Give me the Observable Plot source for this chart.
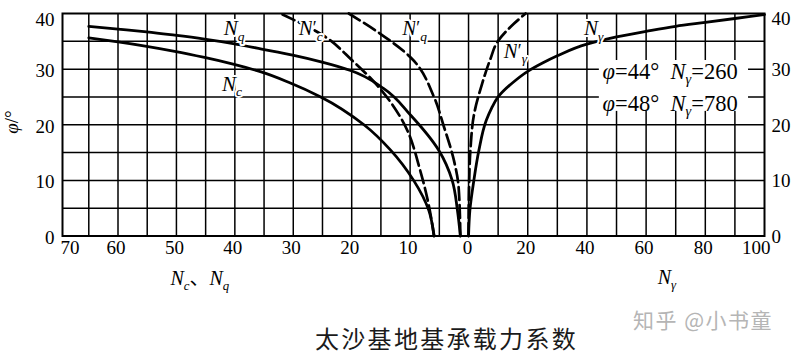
<!DOCTYPE html>
<html>
<head>
<meta charset="utf-8">
<script src="https://cdn.jsdelivr.net/npm/d3@7"></script>
<script src="https://cdn.jsdelivr.net/npm/@observablehq/plot@0.6"></script>
<style>
  html, body { margin: 0; padding: 0; background: #fff; }
  #wrap { position: relative; width: 804px; height: 355px; overflow: hidden; background: #fff; }
  #title { position: absolute; left: 315px; top: 326px; font-family: "Noto Sans CJK SC", sans-serif; font-size: 24px; line-height: 24px; letter-spacing: 2.3px; color: #1a1a1a; white-space: nowrap; }
  #mark { position: absolute; left: 633px; top: 309px; font-family: "Noto Sans CJK SC", sans-serif; font-size: 21px; line-height: 21px; letter-spacing: 1.5px; color: #b5b5b5; white-space: nowrap; }
</style>
</head>
<body>
<div id="wrap">
  <div id="chart"></div>
  <div id="title">太沙基地基承载力系数</div>
  <div id="mark">知乎 @小书童</div>
</div>
<script>
// ---- tick labels and grid ----
const phiTicks = [0, 10, 20, 30, 40];
const phiGrid = [5, 10, 15, 20, 25, 30, 35];
const ncTickLabels = [60, 50, 40, 30, 20, 10];   // left axis (Nc, Nq), reversed
const ncEndTick = [70];
const zeroTick = [0];
const ngTickLabels = [20, 40, 60, 80];            // right axis (Nγ)
const ngEndTick = [100];
const ncGrid = [5, 10, 15, 20, 25, 30, 35, 40, 45, 50, 55, 60, 65];
const ngGrid = [10, 20, 30, 40, 50, 60, 70, 80, 90];

// ---- curves (φ in degrees, N value) ----
const phiNc = [0, 4.6, 10, 15.4, 20, 25, 27.5, 29.5, 30.9, 32.1, 33.2, 34.1, 34.9, 35.6];
const valNc = [5.9, 6.8, 9.4, 13.3, 17.9, 25.3, 30.5, 35.5, 40.3, 45.2, 50.3, 55.1, 60.0, 65.0];

const phiNq = [0, 4.6, 10, 15.4, 21.7, 26.5, 29.75, 31.2, 32.5, 33.6, 34.6, 35.4, 36.1, 36.7, 37.2, 37.7];
const valNq = [1.4, 1.9, 2.8, 5.1, 9.9, 14.5, 20.2, 24.9, 30.1, 35.4, 40.3, 45.2, 50.3, 55.1, 60.0, 65.0];

const phiNcL = [0, 5.5, 11.5, 20.8, 27.4, 31.55, 36.0, 40];
const valNcL = [5.9, 6.8, 8.2, 11.35, 15.9, 19.9, 24.8, 32.2];

const phiNqL = [0, 8.8, 13.6, 19.6, 24.95, 32.1, 36.35, 40];
const valNqL = [1.4, 1.7, 2.5, 4.2, 5.9, 9.9, 15.1, 20.5];

const phiNgL = [0, 8, 16, 21.7, 27.4, 31.85, 34.85, 38.15, 40];
const valNgL = [0, 0.15, 0.7, 1.8, 4.6, 7.4, 9.7, 15.3, 19.3];

const phiNg = [0, 4.6, 10, 15.4, 20.8, 23, 25, 27.6, 29.6, 31.1, 32.4, 34.5, 35.8, 36.8, 37.7, 38.4, 39.1, 39.8];
const valNg = [0, 0.45, 1.8, 3.5, 6.0, 7.8, 10, 15, 20, 25, 30, 40, 50, 60, 70, 80, 90, 100];

const curves = [
  {name: "Nc",  side: "left",  dashed: false, phi: phiNc,  N: valNc},
  {name: "Nq",  side: "left",  dashed: false, phi: phiNq,  N: valNq},
  {name: "Nc'", side: "left",  dashed: true,  phi: phiNcL, N: valNcL},
  {name: "Nq'", side: "left",  dashed: true,  phi: phiNqL, N: valNqL},
  {name: "Ng'", side: "right", dashed: true,  phi: phiNgL, N: valNgL},
  {name: "Ng",  side: "right", dashed: false, phi: phiNg,  N: valNg}
];
const rows = curves.flatMap(c => c.phi.map((p, i) => ({curve: c.name, side: c.side, dashed: c.dashed, phi: p, N: c.N[i]})));

// The shared x axis: left half reads Nc, Nq (reversed), right half reads Nγ.
// One left unit spans K right units (5 units of Nc per grid cell vs 10 of Nγ).
const K = 1.974;
const leftX = v => -K * v;
const xOf = d => d.side === "left" ? leftX(d.N) : d.N;
const leftEdge = 69.5;   // Nc value at the frame's left edge
const rightEdge = 100;   // Nγ value at the frame's right edge

// ---- curve labels ----
const curveLabels = [
  {t: "[i:N][s:q]",      side: "left",  N: 41.9,  phi: 36.05},
  {t: "[i:N][s:c]",      side: "left",  N: 42.2,  phi: 26.0},
  {t: "[i:N][p:′][s:c]", side: "left",  N: 29.05, phi: 36.05},
  {t: "[i:N][p:′][s:q]", side: "left",  N: 11.35, phi: 36.05},
  {t: "[i:N][p:′][s:γ]", side: "right", N: 11.9,  phi: 32.0},
  {t: "[i:N][s:γ]",      side: "right", N: 39.0,  phi: 36.05}
];

// ---- note: large-φ values of Nγ ----
const notePhi = [44, 48];
const noteNg = [260, 780];
const noteBaselinePhi = [28.26, 22.56];
const noteStartNg = 45.3;
const noteBox = {x1: 44.2, x2: 94.6, y1: 22.4, y2: 31.55};
const notes = notePhi.map((p, i) => ({text: `[i:φ]=${p}°  [i:N][s:γ]=${noteNg[i]}`, phi: noteBaselinePhi[i]}));

const serif = "'Liberation Serif', 'Times New Roman', 'Noto Sans CJK SC', serif";

const chart = Plot.plot({
  width: 804,
  height: 300,
  marginTop: 13,
  marginBottom: 64.5,
  marginLeft: 62,
  marginRight: 40,
  style: {fontFamily: serif, background: "white", color: "black", overflow: "visible"},
  x: {domain: [leftX(leftEdge), rightEdge], axis: null},
  y: {domain: [0, 40], axis: null},
  marks: [
    // grid
    Plot.ruleY(phiGrid, {stroke: "black", strokeWidth: 1.5}),
    Plot.ruleX(ncGrid, {x: leftX, stroke: "black", strokeWidth: 1.5}),
    Plot.ruleX(zeroTick, {stroke: "black", strokeWidth: 1.5}),
    Plot.ruleX(ngGrid, {stroke: "black", strokeWidth: 1.5}),
    Plot.frame({stroke: "black", strokeWidth: 2}),
    // curves
    Plot.line(rows.filter(d => !d.dashed), {x: xOf, y: "phi", z: "curve", curve: "monotone-y", stroke: "black", strokeWidth: 2.8}),
    Plot.line(rows.filter(d => d.dashed), {x: xOf, y: "phi", z: "curve", curve: "monotone-y", stroke: "black", strokeWidth: 2.7, strokeDasharray: "13,5"}),
    // note box
    Plot.rect([noteBox], {x1: "x1", x2: "x2", y1: "y1", y2: "y2", fill: "white"}),
    Plot.text(notes, {x: () => noteStartNg, y: "phi", text: "text", textAnchor: "start", lineAnchor: "bottom", fontSize: 22.5, fill: "black", className: "rich"}),
    // curve labels
    Plot.text(curveLabels, {x: xOf, y: "phi", text: "t", textAnchor: "start", lineAnchor: "bottom", fontSize: 21, fill: "black", stroke: "white", strokeWidth: 4, className: "rich"}),
    // y tick labels
    Plot.text(phiTicks.filter(d => d < 40), {y: d => d, text: d => String(d), frameAnchor: "left", textAnchor: "end", dx: -8, dy: 2, fontSize: 19}),
    Plot.text(phiTicks.filter(d => d === 40), {y: d => d, text: d => String(d), frameAnchor: "left", textAnchor: "end", dx: -8, dy: 6, fontSize: 19}),
    Plot.text(phiTicks.filter(d => d < 40), {y: d => d, text: d => String(d), frameAnchor: "right", textAnchor: "start", dx: 7, dy: 1, fontSize: 19}),
    Plot.text(phiTicks.filter(d => d === 40), {y: d => d, text: d => String(d), frameAnchor: "right", textAnchor: "start", dx: 7, dy: 5, fontSize: 19}),
    // x tick labels
    Plot.text(ncTickLabels, {x: leftX, text: d => String(d), frameAnchor: "bottom", dy: 18, dx: -2, fontSize: 19}),
    Plot.text(ncEndTick, {x: leftX, text: d => String(d), frameAnchor: "bottom", textAnchor: "start", dy: 18, dx: 1, fontSize: 19}),
    Plot.text(zeroTick, {x: d => d, text: d => String(d), frameAnchor: "bottom", dy: 18, dx: -1, fontSize: 19}),
    Plot.text(ngTickLabels, {x: d => d, text: d => String(d), frameAnchor: "bottom", dy: 18, dx: -2, fontSize: 19}),
    Plot.text(ngEndTick, {x: d => d, text: d => String(d), frameAnchor: "bottom", textAnchor: "end", dy: 18, dx: 6, fontSize: 19}),
    // axis titles
    Plot.text(["[i:N][s:c]、[i:N][s:q]"], {x: () => leftX(46), text: d => d, frameAnchor: "bottom", dy: 49, fontSize: 20, className: "rich"}),
    Plot.text(["[i:N][s:γ]"], {x: () => 67, text: d => d, frameAnchor: "bottom", dy: 48, fontSize: 20, className: "rich"}),
    Plot.text(["[i:φ]/°"], {text: d => d, frameAnchor: "left", dx: -51, dy: 9, rotate: -90, fontSize: 19, className: "rich"})
  ]
});

document.getElementById("chart").appendChild(chart);

// rich text: [i:..] italic, [s:..] italic subscript, [p:..] prime
const RE = /\[(i|s|p):([^\]]*)\]|([^\[]+)/g;
function richify(root) {
  root.querySelectorAll("g.rich text").forEach(t => {
    const g = t.closest("g.rich");
    const fs = parseFloat(g.getAttribute("font-size")) || 20;
    const src = t.textContent;
    while (t.firstChild) t.removeChild(t.firstChild);
    let cur = 0;
    for (const m of src.matchAll(RE)) {
      const kind = m[1] || "n";
      const txt = m[1] ? m[2] : m[3];
      const ts = document.createElementNS("http://www.w3.org/2000/svg", "tspan");
      let target = 0;
      if (kind === "i") ts.setAttribute("font-style", "italic");
      if (kind === "s") { ts.setAttribute("font-style", "italic"); ts.setAttribute("font-size", fs * 0.64); target = 0.24 * fs; }
      if (kind === "p") { ts.setAttribute("font-size", fs * 0.85); target = -0.05 * fs; }
      const dy = target - cur;
      if (dy) ts.setAttribute("dy", dy);
      cur = target;
      ts.textContent = txt;
      t.appendChild(ts);
    }
  });
}
richify(chart);
</script>
</body>
</html>
